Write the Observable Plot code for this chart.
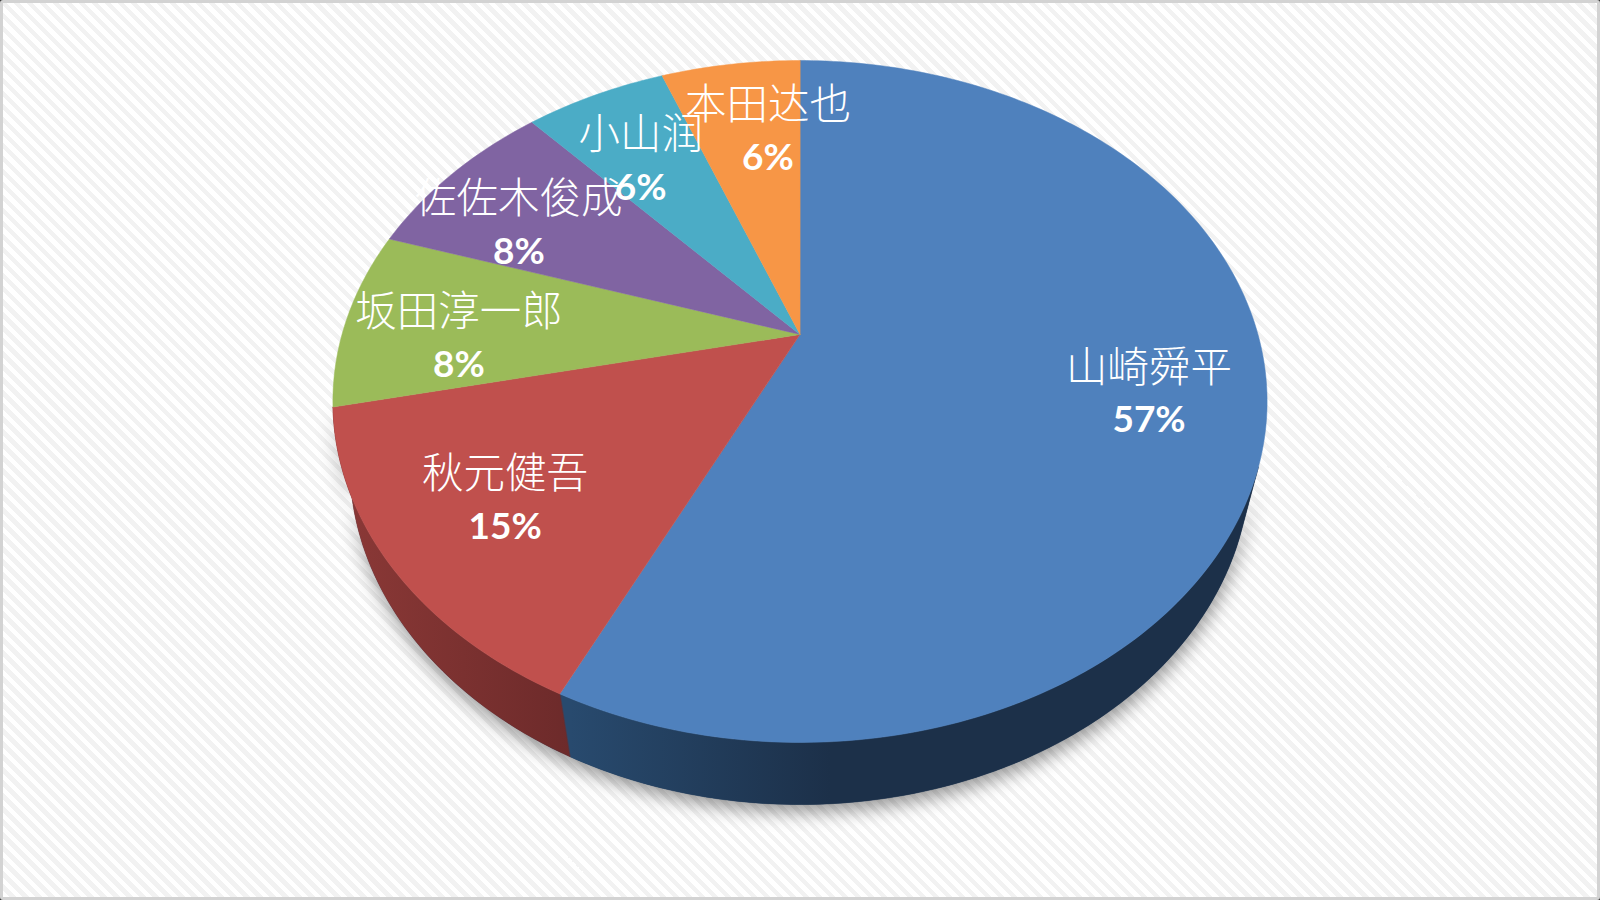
<!DOCTYPE html>
<html><head><meta charset="utf-8">
<script src="https://cdn.jsdelivr.net/npm/d3@7"></script>
<script src="https://cdn.jsdelivr.net/npm/@observablehq/plot@0.6"></script>
<style>
html,body{margin:0;padding:0;width:1600px;height:900px;overflow:hidden;background:#333}
#page{position:absolute;left:0;top:0;width:1600px;height:900px;box-sizing:border-box;border:3px solid #d3d3d3;border-radius:3px;
background:repeating-linear-gradient(45deg,#ffffff 0 4.6px,#f2f2f2 4.6px 9.2px)}
#chart{position:absolute;left:0;top:0;width:1600px;height:900px}
#chart svg{display:block}
</style></head><body><div id="page"></div><div id="chart"></div>
<script>
// Data
const names = ["山崎舜平","秋元健吾","坂田淳一郎","佐佐木俊成","小山润","本田达也"];
const shares = [57.1,14.5,8.4,8.3,5.9,5.8];
const colors = ["#4F81BD","#C0504D","#9BBB59","#8064A2","#4BACC6","#F79646"];
const labelNudgeX = [-2,6,4,-11,2,23];
const labelNudgeY = [2,-5,16,16,15,10];

// Perspective model of the tilted disc
const cx=799.5, cy=334, B=458, A=327.8, p=0.1965, q=0.036, E=66.8;
function project(deg, r, h){
  const t=deg*Math.PI/180, s=Math.sin(t), c=Math.cos(t);
  const d=1+p*r*c+q*h;
  return {x:cx+B*r*s/d, y:cy+(-A*r*c+E*h)/d};
}
const total=d3.sum(shares);
let acc=0;
const slices=names.map((name,i)=>{
  const a0=acc/total*360; acc+=shares[i]; const a1=acc/total*360;
  return {name,a0,a1,share:shares[i],color:colors[i],i};
});
function arcDegs(a0,a1){const n=Math.max(2,Math.ceil((a1-a0)/1));return d3.range(n+1).map(k=>a0+(a1-a0)*k/n);}
const topFace=slices.flatMap(s=>[
  {name:s.name,...project(0,0,0)},
  ...arcDegs(s.a0,s.a1).map(a=>({name:s.name,...project(a,1,0)}))
]);
function wall(a0,a1){
  return [...arcDegs(a0,a1).map(a=>project(a,1,0)),...arcDegs(a0,a1).reverse().map(a=>project(a,1,1))];
}
const blue=slices[0], red=slices[1];
const wallStart=112;
const blueWall=wall(wallStart,blue.a1), redWall=wall(red.a0,red.a1), silhouette=wall(wallStart,red.a1);
const labels=slices.map(s=>{
  const pt=project((s.a0+s.a1)/2,0.76,0);
  return {name:s.name,pct:d3.format(".0f")(s.share)+"%",x:pt.x+labelNudgeX[s.i],y:pt.y+labelNudgeY[s.i]};
});

const defs=()=>{
  const d=d3.create("svg:defs");
  const grad=(id,x1,x2,c1,c2)=>{
    const g=d.append("linearGradient").attr("id",id).attr("gradientUnits","userSpaceOnUse")
      .attr("x1",x1).attr("x2",x2).attr("y1",0).attr("y2",0);
    g.append("stop").attr("offset",0).attr("stop-color",c1);
    g.append("stop").attr("offset",1).attr("stop-color",c2);
  };
  grad("wallBlue",570,830,"#284a6e","#1c3049");
  grad("wallRed",350,575,"#8a3836","#6c2a2a");
  const f=d.append("filter").attr("id","pieShadow").attr("x","-10%").attr("y","-15%").attr("width","120%").attr("height","135%");
  f.append("feDropShadow").attr("dx",1).attr("dy",8).attr("stdDeviation",9).attr("flood-color","#000").attr("flood-opacity",0.4);
  return d.node();
};
const closed={x:"x",y:"y",curve:"linear-closed"};
const plot=Plot.plot({
  width:1600,height:900,margin:0,
  style:{background:"transparent"},
  x:{domain:[0,1600],range:[0,1600],axis:null},
  y:{domain:[0,900],range:[0,900],axis:null},
  color:{domain:names,range:colors},
  marks:[
    defs,
    Plot.line(silhouette,{...closed,fill:"#1c3049",stroke:"none"}),
    Plot.line(blueWall,{...closed,fill:"url(#wallBlue)",stroke:"url(#wallBlue)",strokeWidth:0.5}),
    Plot.line(redWall,{...closed,fill:"url(#wallRed)",stroke:"url(#wallRed)",strokeWidth:0.5}),
    Plot.line(topFace,{...closed,z:"name",fill:"name",stroke:"name",strokeWidth:0.5}),
    Plot.text(labels,{x:"x",y:"y",text:"name",dy:-25,fill:"white",fontSize:41.5,fontFamily:"'Noto Sans CJK SC',sans-serif",fontWeight:300,textAnchor:"middle",lineAnchor:"middle"}),
    Plot.text(labels,{x:"x",y:"y",text:"pct",dy:27,fill:"white",fontSize:37,fontFamily:"Lato,sans-serif",fontWeight:700,textAnchor:"middle",lineAnchor:"middle"})
  ]
});
plot.querySelector('g[aria-label="line"]').setAttribute("filter","url(#pieShadow)");
document.getElementById("chart").append(plot);
</script></body></html>
